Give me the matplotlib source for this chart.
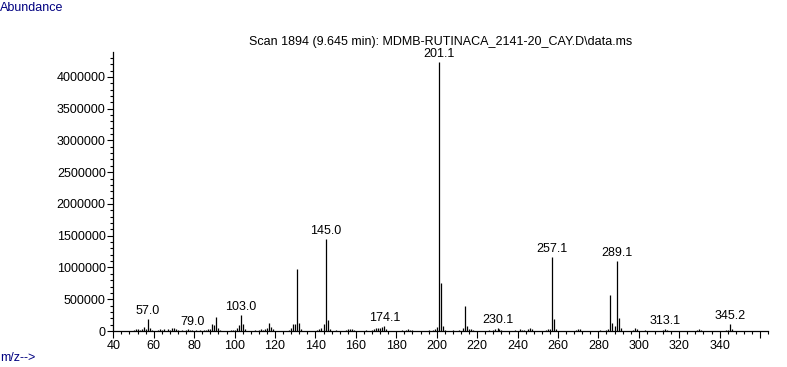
import matplotlib
matplotlib.use("Agg")
import matplotlib.pyplot as plt
from matplotlib.ticker import MultipleLocator, FixedLocator

plt.rcParams["font.family"] = ["Liberation Sans", "DejaVu Sans"]
plt.rcParams["font.size"] = 9

# m/z values and abundances
mz = [50, 51, 52, 53, 54, 55, 56, 57.0, 58, 59,
      62, 63, 64, 65, 67, 68, 69, 70, 71, 72,
      74, 76, 77, 78, 79.0, 81, 83, 85, 86, 87,
      88, 89, 90, 91, 92, 93,
      98, 99, 100, 101, 102, 103.0, 104, 105,
      110, 112, 113, 114, 115, 116, 117, 118, 119,
      127, 128, 129, 130, 131, 132, 133,
      141, 142, 143, 144, 145.0, 146, 147,
      150, 155, 156, 157, 158, 159,
      165, 168, 169, 170, 171, 172, 173, 174.1, 175,
      183, 185, 186, 187, 188,
      196, 198, 199, 200, 201.1, 202, 203, 204,
      208, 211, 213, 214, 215, 216, 217, 218,
      226, 228, 229, 230.1, 231, 232,
      239, 241, 242, 243, 245, 246, 247,
      254, 255, 256, 257.1, 258, 259,
      269, 270, 271,
      281, 284, 285, 286, 287, 288, 289.1, 290, 291,
      297, 298, 299, 303, 312, 313.1, 314,
      329, 330, 331, 343, 344, 345.2, 346]
abund = [20000, 25000, 30000, 20000, 35000, 65000, 25000, 195000, 40000, 15000,
         20000, 25000, 15000, 30000, 25000, 20000, 40000, 40000, 35000, 15000,
         10000, 15000, 30000, 10000, 15000, 15000, 15000, 20000, 15000, 30000,
         35000, 110000, 95000, 220000, 45000, 20000,
         15000, 20000, 15000, 40000, 100000, 250000, 110000, 30000,
         15000, 20000, 25000, 20000, 35000, 50000, 120000, 60000, 25000,
         15000, 40000, 110000, 110000, 975000, 120000, 25000,
         20000, 25000, 50000, 110000, 1450000, 180000, 30000,
         15000, 15000, 25000, 30000, 25000, 15000,
         10000, 20000, 30000, 40000, 55000, 45000, 60000, 85000, 30000,
         10000, 20000, 25000, 20000, 15000,
         15000, 20000, 30000, 65000, 4230000, 760000, 80000, 20000,
         20000, 15000, 40000, 400000, 75000, 35000, 25000, 15000,
         10000, 20000, 30000, 45000, 30000, 15000,
         20000, 25000, 15000, 20000, 25000, 55000, 25000,
         20000, 25000, 30000, 1170000, 190000, 30000,
         20000, 35000, 25000,
         15000, 15000, 30000, 570000, 120000, 80000, 1110000, 200000, 45000,
         20000, 55000, 25000, 15000, 20000, 25000, 15000,
         15000, 30000, 20000, 15000, 20000, 110000, 30000]

labelled = [57.0, 79.0, 103.0, 145.0, 174.1, 201.1, 230.1, 257.1, 289.1, 313.1, 345.2]

title = "Scan 1894 (9.645 min): MDMB-RUTINACA_2141-20_CAY.D\\data.ms"
navy = "#000080"

fig = plt.figure(figsize=(7.87, 3.67), dpi=100)
ax = fig.add_axes([0.144, 0.098, 0.832, 0.760])

ax.vlines(mz, 0, abund, color="black", linewidth=0.9)

for m in labelled:
    h = abund[mz.index(m)]
    ax.annotate(f"{m:.1f}", (m, h), xytext=(0, 2), textcoords="offset pixels",
                ha="center", va="bottom", fontsize=9)

ax.set_xlim(40, 364)
ax.set_ylim(0, 4.39e6)

ax.xaxis.set_major_locator(FixedLocator(list(range(40, 361, 20))))
ax.set_xticklabels([str(v) if v <= 340 else "" for v in range(40, 361, 20)])
ax.xaxis.set_minor_locator(MultipleLocator(4))
ax.yaxis.set_major_locator(MultipleLocator(500000))
ax.yaxis.set_minor_locator(MultipleLocator(100000))
ax.yaxis.set_major_formatter(plt.FuncFormatter(lambda v, p: f"{int(v)}"))

ax.tick_params(which="major", direction="out", length=4, width=0.8, pad=1.5)
ax.tick_params(which="minor", direction="out", length=2, width=0.8)
ax.tick_params(axis="x", which="major", length=5)

for s in ["top", "right"]:
    ax.spines[s].set_visible(False)
for s in ["left", "bottom"]:
    ax.spines[s].set_linewidth(0.9)

fig.text(441 / 787, 1 - 42.5 / 367, title, ha="center", va="center", fontsize=9)
fig.text(0.0, 1 - 8 / 367, "Abundance", ha="left", va="center", fontsize=9, color=navy)
fig.text(0.0, 1 - 358 / 367, "m/z-->", ha="left", va="center", fontsize=9, color=navy)

fig.savefig("out.png", dpi=100)
